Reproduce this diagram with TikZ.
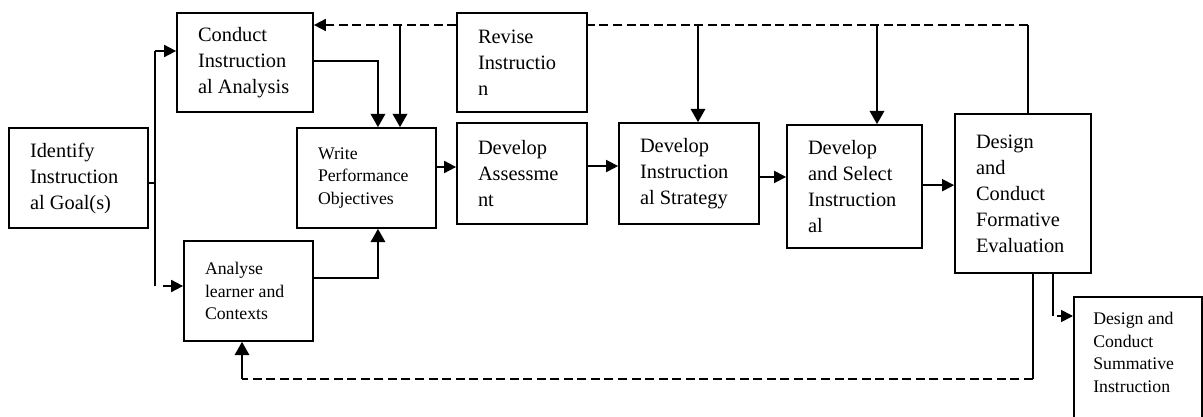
\documentclass[tikz,border=0pt]{standalone}
\usepackage{fontspec}
\setmainfont{Liberation Serif}
\usetikzlibrary{arrows.meta}
\tikzset{
  box/.style={draw, line width=1.3pt, align=flush left, inner xsep=15.75pt, inner ysep=2pt, fill=white},
  bigf/.style={font=\fontsize{15.3pt}{19.5pt}\selectfont},
  smallf/.style={font=\fontsize{13.3pt}{17pt}\selectfont},
  conn/.style={line width=1.3pt},
  arr/.style={conn, -{Triangle[length=9pt,width=9pt]}},
  darr/.style={conn, -{Triangle[length=10pt,width=11pt]}},
  dashline/.style={conn, dash pattern=on 6.75pt off 3.4pt}
}
\begin{document}
\begin{tikzpicture}[x=0.75pt,y=-0.75pt]
\clip (0,0) rectangle (1203,417);
\fill[white] (0,0) rectangle (1203,417);
% boxes
\node[box,bigf,text width=72.75pt,minimum height=75pt] (idf) at (78.5,178) {Identify\\Instruction\\al Goal(s)};
\node[box,bigf,text width=70.5pt,minimum height=74.25pt] (cia) at (245,62.5) {Conduct\\Instruction\\al Analysis};
\node[box,smallf,text width=72.75pt,minimum height=75pt] (wpo) at (366.5,178) {Write\\Performance\\Objectives};
\node[box,smallf,text width=65.25pt,minimum height=75pt] (alc) at (248.5,291) {Analyse\\learner and\\Contexts};
\node[box,bigf,text width=66pt,minimum height=74.25pt] (rev) at (522,62.5) {Revise\\Instructio\\n};
\node[box,bigf,text width=66pt,minimum height=75.75pt] (das) at (522,173.5) {Develop\\Assessme\\nt};
\node[box,bigf,text width=73.5pt,minimum height=75.75pt] (dis) at (689,173.5) {Develop\\Instruction\\al Strategy};
\node[box,bigf,text width=69.75pt,minimum height=92.25pt] (dsi) at (854.5,186.5) {Develop\\and Select\\Instruction\\al};
\node[box,bigf,text width=70.5pt,minimum height=119.25pt] (dfe) at (1023,193.5) {Design\\and\\Conduct\\Formative\\Evaluation};
\node[draw,line width=1.3pt,anchor=north west,inner sep=0pt,minimum width=96pt,minimum height=112.5pt] (sum) at (1073,296) {};
\node[smallf,align=flush left,anchor=north west,inner sep=0pt] (sumtxt) at (1093,312) {Design and\\Conduct\\Summative\\Instruction};
% coordinates
\coordinate (jtop) at (155,51);
\coordinate (jbot) at (155,286);
\coordinate (jmid) at (155,183);
\coordinate (topy) at (0,25);
\coordinate (tr) at (1028,25);
\coordinate (d1) at (400,25);
\coordinate (d2) at (698,25);
\coordinate (d3) at (877,25);
\coordinate (s1) at (1053,316);
\coordinate (b1) at (1033,379);
\coordinate (b2) at (242,379);
% identify branches
\draw[conn] (idf.east |- jmid) -- (jmid);
\draw[conn] (jtop) -- (jbot);
\draw[arr] (jtop) -- (jtop -| cia.west);
\draw[arr] ([xshift=6pt]jbot) -- (jbot -| alc.west);
% into write objectives
\draw[darr] ([yshift=1pt]cia.east) -| ([xshift=8.6pt]wpo.north);
\draw[darr] ([yshift=9.75pt]alc.east) -| ([xshift=8.6pt]wpo.south);
% main chain
\draw[arr] ([yshift=8.25pt]wpo.east) -- ([yshift=8.25pt]wpo.east -| das.west);
\draw[arr] ([yshift=5.6pt]das.east) -- ([yshift=5.6pt]das.east -| dis.west);
\draw[arr] ([yshift=-2.6pt]dis.east) -- ([yshift=-2.6pt]dis.east -| dsi.west);
\draw[arr] ([yshift=1pt]dsi.east) -- ([yshift=1pt]dsi.east -| dfe.west);
% revise loop
\draw[conn] (tr |- dfe.north) -- (tr);
\draw[dashline] (tr) -- (tr -| rev.east);
\draw[dashline,arr] (rev.west |- topy) -- (cia.east |- topy);
\draw[darr] (d1) -- (d1 |- wpo.north);
\draw[darr] (d2) -- (d2 |- dis.north);
\draw[darr] (d3) -- (d3 |- dsi.north);
% summative
\draw[conn] (s1 |- dfe.south) -- (s1);
\draw[arr] ([xshift=3pt]s1) -- (s1 -| sum.west);
% bottom feedback
\draw[conn] (b1 |- dfe.south) -- (b1);
\draw[dashline] (b1) -- (b2);
\draw[darr] (b2) -- (b2 |- alc.south);
\end{tikzpicture}
\end{document}
